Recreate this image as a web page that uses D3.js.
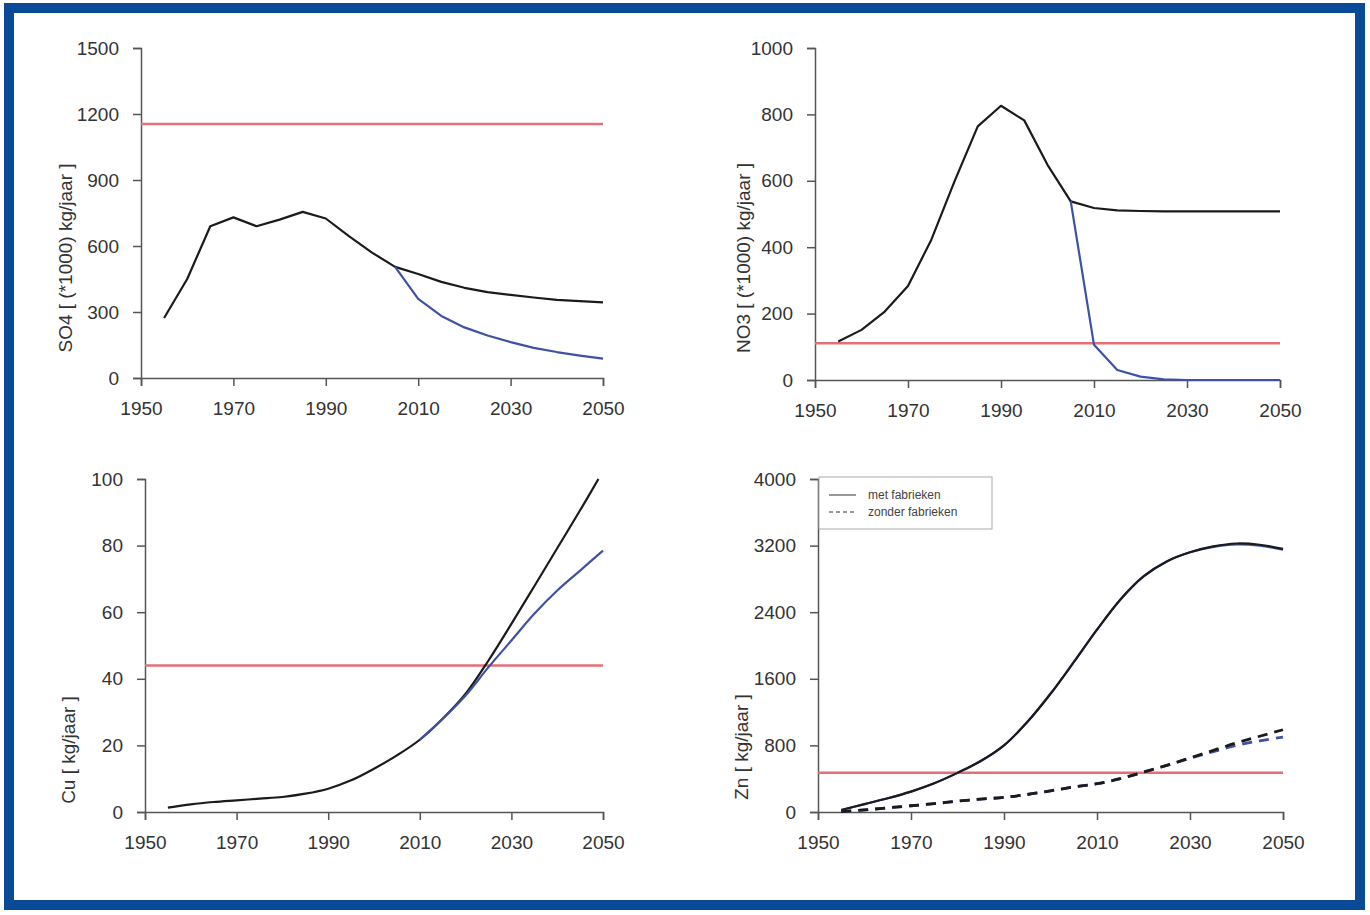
<html>
<head>
<script src="https://d3js.org/d3.v7.min.js"></script>
<style>
body { margin: 0; background: #ffffff; }
svg text { font-family: "Liberation Sans", Arial, sans-serif; fill: #333; }
.axis path, .axis line { stroke: #555; stroke-width: 1.5; }
.axis text { font-size: 19px; fill: #333; }
</style>
</head>
<body>
<svg width="1370" height="915"></svg>
<script>

// years for the 5-yearly model output
var years = [1955,1960,1965,1970,1975,1980,1985,1990,1995,2000,2005,2010,2015,2020,2025,2030,2035,2040,2045,2050];
var yearsFuture = [2005,2010,2015,2020,2025,2030,2035,2040,2045,2050];
var xTicks = [1950,1970,1990,2010,2030,2050];
var normYears = [1950,2050];

// SO4
var so4Met = [273,450,690,730,690,720,755,725,645,570,505,473,437,410,390,378,366,355,349,344];
var so4Zonder = [505,360,282,230,193,163,137,118,102,88];
var so4Norm = 1155;
var so4Ticks = [0,300,600,900,1200,1500];

// NO3
var no3Met = [116,151,206,283,422,598,764,826,782,648,538,518,511,509,508,508,508,508,508,508];
var no3Zonder = [538,106,30,10,2,0,0,0,0,0];
var no3Norm = 111;
var no3Ticks = [0,200,400,600,800,1000];

// Cu
var cuYears = [1955,1960,1965,1970,1975,1980,1985,1990,1995,2000,2005,2010,2015,2020,2025,2030,2035,2040,2045,2049];
var cuMet = [1.3,2.3,3,3.5,4,4.5,5.5,7,9.5,13,17,21.7,28,35.5,45.5,56.5,67.8,79.2,90.6,100];
var cuZonderYears = [2010,2015,2020,2025,2030,2035,2040,2045,2050];
var cuZonder = [21.7,28,35,43.5,51.5,59.5,66.5,72.5,78.5];
var cuNorm = 44;
var cuTicks = [0,20,40,60,80,100];

// Zn
var znMet = [24,95,165,245,345,470,612,800,1080,1420,1800,2190,2550,2830,3010,3120,3190,3225,3210,3160];
var znMetZonder = [24,95,165,245,345,470,612,800,1080,1420,1800,2190,2550,2830,3010,3120,3185,3215,3200,3150];
var znDash = [5,25,50,75,100,130,155,175,210,255,300,340,400,480,560,650,740,830,910,988];
var znDashZonder = [5,25,50,75,100,130,155,175,210,255,300,340,400,480,560,645,725,800,855,900];
var znNorm = 470;
var znTicks = [0,800,1600,2400,3200,4000];

var legendLabels = ["met fabrieken", "zonder fabrieken"];

var colBlack = "#1b1b1b", colBlue = "#3f51a6", colRed = "#e46f76";

var svg = d3.select("svg");

// blue frame
svg.append("rect")
  .attr("x", 9).attr("y", 8).attr("width", 1351).attr("height", 897)
  .attr("fill", "none").attr("stroke", "#0b4a96").attr("stroke-width", 10);

function panel(p) {
  var xs = d3.scaleLinear().domain([1950, 2050]).range([p.x0, p.x1]);
  var ys = d3.scaleLinear().domain([0, p.ymax]).range([p.y1, p.y0]);
  var g = svg.append("g");

  g.append("g").attr("class", "axis")
    .attr("transform", "translate(0," + p.y1 + ")")
    .call(d3.axisBottom(xs).tickValues(xTicks).tickFormat(d3.format("d")).tickSizeOuter(0).tickSize(8).tickPadding(16));

  g.append("g").attr("class", "axis")
    .attr("transform", "translate(" + p.x0 + ",0)")
    .call(d3.axisLeft(ys).tickValues(p.ticks).tickFormat(d3.format("d")).tickSizeOuter(0).tickSize(8).tickPadding(14));

  // norm line
  g.append("path")
    .datum(normYears.map(function(y) { return [y, p.norm]; }))
    .attr("fill", "none").attr("stroke", colRed).attr("stroke-width", 2.5)
    .attr("d", d3.line().x(function(d) { return xs(d[0]); }).y(function(d) { return ys(d[1]); }));

  var line = d3.line()
    .x(function(d) { return xs(d[0]); })
    .y(function(d) { return ys(d[1]); })
    .curve(p.smooth ? d3.curveCatmullRom.alpha(0.5) : d3.curveLinear);

  p.series.forEach(function(s) {
    g.append("path")
      .datum(s.x.map(function(x, i) { return [x, s.y[i]]; }))
      .attr("fill", "none")
      .attr("stroke", s.color)
      .attr("stroke-width", s.dash ? 2.8 : 2.2)
      .attr("stroke-dasharray", s.dash ? "10,7" : null)
      .attr("stroke-linejoin", "round")
      .attr("d", line);
  });

  g.append("text")
    .attr("transform", "translate(" + p.lx + "," + p.ly + ") rotate(-90)")
    .attr("dy", "0.35em")
    .style("text-anchor", "middle")
    .style("font-size", "19px")
    .text(p.label);
}

panel({x0: 141, x1: 603, y0: 48, y1: 378, ymax: 1500, ticks: so4Ticks, norm: so4Norm,
  lx: 65, ly: 258, label: "SO4 [ (*1000) kg/jaar ]", smooth: false,
  series: [
    {x: years, y: so4Met, color: colBlack},
    {x: yearsFuture, y: so4Zonder, color: colBlue}
  ]});

panel({x0: 815, x1: 1280, y0: 48, y1: 380, ymax: 1000, ticks: no3Ticks, norm: no3Norm,
  lx: 743, ly: 258, label: "NO3 [ (*1000) kg/jaar ]", smooth: false,
  series: [
    {x: years, y: no3Met, color: colBlack},
    {x: yearsFuture, y: no3Zonder, color: colBlue}
  ]});

panel({x0: 145, x1: 603, y0: 479, y1: 812, ymax: 100, ticks: cuTicks, norm: cuNorm,
  lx: 68, ly: 750, label: "Cu [  kg/jaar ]", smooth: true,
  series: [
    {x: cuYears, y: cuMet, color: colBlack},
    {x: cuZonderYears, y: cuZonder, color: colBlue}
  ]});

panel({x0: 818, x1: 1283, y0: 479, y1: 812, ymax: 4000, ticks: znTicks, norm: znNorm,
  lx: 741, ly: 747, label: "Zn [  kg/jaar ]", smooth: true,
  series: [
    {x: years, y: znMetZonder, color: colBlue},
    {x: years, y: znMet, color: colBlack},
    {x: years, y: znDashZonder, color: colBlue, dash: true},
    {x: years, y: znDash, color: colBlack, dash: true}
  ]});

// legend (Zn panel)
var lg = svg.append("g").attr("transform", "translate(819,477)");
lg.append("rect").attr("width", 173).attr("height", 52)
  .attr("fill", "#fff").attr("stroke", "#aaa").attr("stroke-width", 1);
legendLabels.forEach(function(t, i) {
  lg.append("line")
    .attr("x1", 10).attr("x2", 37).attr("y1", 18 + i * 17).attr("y2", 18 + i * 17)
    .attr("stroke", "#333").attr("stroke-width", 1)
    .attr("stroke-dasharray", i == 1 ? "4,3" : null);
  lg.append("text")
    .attr("x", 49).attr("y", 18 + i * 17).attr("dy", "0.35em")
    .style("font-size", "12px").style("fill", "#444")
    .text(t);
});

</script>
</body>
</html>
